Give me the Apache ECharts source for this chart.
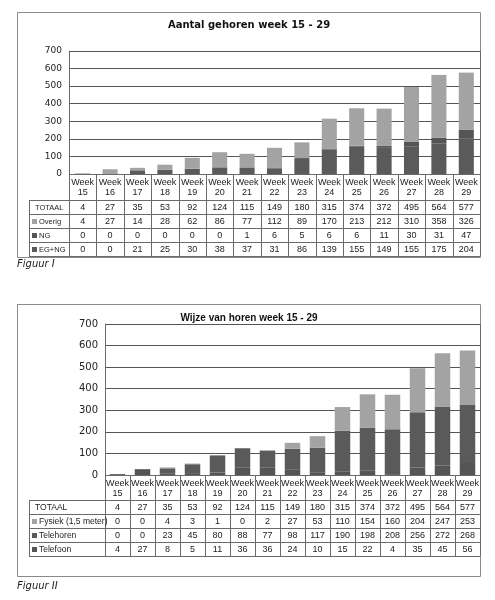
<!DOCTYPE html>
<html><head><meta charset="utf-8">
<script src="https://cdn.jsdelivr.net/npm/echarts@6/dist/echarts.min.js"></script>
<style>html,body{margin:0;padding:0;background:#fff}#c{width:495px;height:600px}</style>
</head><body><div id="c"></div>
<script>
const weeks = ['15','16','17','18','19','20','21','22','23','24','25','26','27','28','29'];
const totaal = [4,27,35,53,92,124,115,149,180,315,374,372,495,564,577];
// Figuur I
const overig = [4,27,14,28,62,86,77,112,89,170,213,212,310,358,326];
const ng     = [0,0,0,0,0,0,1,6,5,6,6,11,30,31,47];
const egng   = [0,0,21,25,30,38,37,31,86,139,155,149,155,175,204];
// Figuur II
const fysiek    = [0,0,4,3,1,0,2,27,53,110,154,160,204,247,253];
const telehoren = [0,0,23,45,80,88,77,98,117,190,198,208,256,272,268];
const telefoon  = [4,27,8,5,11,36,36,24,10,15,22,4,35,45,56];

const title1 = 'Aantal gehoren week 15 - 29';
const title2 = 'Wijze van horen week 15 - 29';

const LIGHT = '#a3a3a3', DARK = '#5a5a5a', DARK2 = '#555555';
const LINE = '#6a6a6a';
const cats = weeks.map(w => 'Week ' + w);

const G1 = {left:69, right:480, top:51, bottom:174, catBottom:200, rowH:14, tableLeft:29};
const G2 = {left:105, right:480, top:324, bottom:475, catBottom:500, rowH:14, tableLeft:29};

const chart = echarts.init(document.getElementById('c'), null, {renderer:'canvas'});

function yAxisCfg(grid, fs){
  return {type:'value', gridIndex:grid, min:0, max:700, interval:100,
    axisLine:{show:true, lineStyle:{color:LINE}}, axisTick:{show:false},
    axisLabel:{color:'#222', fontSize:fs, fontFamily:'DejaVu Sans', margin:7},
    splitLine:{lineStyle:{color:'#555', width:1}}};
}
function xAxisCfg(grid){
  return {type:'category', gridIndex:grid, data:cats, axisLine:{show:false},
    axisTick:{show:false}, axisLabel:{show:false}, splitLine:{show:false}};
}
function bar(name, data, color, xi, bw){
  return {type:'bar', name, data, stack:'s'+xi, xAxisIndex:xi, yAxisIndex:xi,
    barWidth:bw, itemStyle:{color}, silent:true, animation:false};
}

chart.setOption({
  animation:false,
  grid:[
    {left:G1.left, width:G1.right-G1.left, top:G1.top, height:G1.bottom-G1.top},
    {left:G2.left, width:G2.right-G2.left, top:G2.top, height:G2.bottom-G2.top}
  ],
  xAxis:[xAxisCfg(0), xAxisCfg(1)],
  yAxis:[yAxisCfg(0,9), yAxisCfg(1,10)],
  series:[
    bar('EG+NG', egng, DARK, 0, '55%'),
    bar('NG', ng, DARK2, 0, '55%'),
    bar('Overig', overig, LIGHT, 0, '55%'),
    bar('Telefoon', telefoon, DARK2, 1, '62%'),
    bar('Telehoren', telehoren, DARK, 1, '62%'),
    bar('Fysiek (1,5 meter)', fysiek, LIGHT, 1, '62%')
  ]
});

const gfx = [];
function hline(x1,x2,y,c){ gfx.push({type:'line', silent:true, shape:{x1,y1:y+0.5,x2,y2:y+0.5}, style:{stroke:c||LINE, lineWidth:1}}); }
function vline(x,y1,y2,c){ gfx.push({type:'line', silent:true, shape:{x1:x+0.5,y1,x2:x+0.5,y2}, style:{stroke:c||LINE, lineWidth:1}}); }
function txt(x,y,s,opt){ gfx.push({type:'text', silent:true, x, y, style:Object.assign({text:s, fill:'#222', font:'9px "Liberation Sans"', textAlign:'center', textVerticalAlign:'middle'}, opt||{})}); }
function key(x,y,c){ gfx.push({type:'rect', silent:true, shape:{x, y:y-2.5, width:5, height:5}, style:{fill:c}}); }

function table(xi, G, rows, hfont){
  const centers = weeks.map((w,i)=>chart.convertToPixel({xAxisIndex:xi}, cats[i]));
  const colW = (G.right-G.left)/weeks.length;
  for(let k=0;k<=weeks.length;k++){
    const x = Math.round(G.left + k*colW);
    vline(Math.min(x,G.right), G.bottom, G.catBottom + rows.length*G.rowH);
  }
  vline(G.tableLeft, G.catBottom, G.catBottom + rows.length*G.rowH);
  hline(G.left, G.right, G.bottom);
  for(let r=0;r<=rows.length;r++) hline(G.tableLeft, G.right, G.catBottom + r*G.rowH);
  centers.forEach((cx,i)=>{
    txt(cx, G.bottom+8.5, 'Week');
    txt(cx, G.bottom+18.5, weeks[i]);
  });
  rows.forEach((row,r)=>{
    const cy = G.catBottom + r*G.rowH + G.rowH/2 + 0.5;
    if(row.color){ key(G.tableLeft+3, cy, row.color); txt(G.tableLeft+10, cy, row.label, {textAlign:'left', font:hfont}); }
    else txt(G.tableLeft+6, cy, row.label, {textAlign:'left', font:hfont});
    row.data.forEach((v,i)=>txt(centers[i], cy, String(v)));
  });
}

gfx.push({type:'rect', silent:true, z:-1, shape:{x:17.5,y:12.5,width:463,height:245}, style:{fill:'none', stroke:'#8a8a8a', lineWidth:1}});
gfx.push({type:'rect', silent:true, z:-1, shape:{x:17.5,y:304.5,width:463,height:272}, style:{fill:'none', stroke:'#8a8a8a', lineWidth:1}});
vline(G1.right, G1.top, G1.bottom);
vline(G2.right, G2.top, G2.bottom);

txt(249, 25, title1, {font:'bold 10px "DejaVu Sans"', fill:'#111'});
txt(249, 318, title2, {font:'bold 10px "Liberation Sans"', fill:'#111'});

table(0, G1, [
  {label:'TOTAAL', data:totaal},
  {label:'Overig', data:overig, color:LIGHT},
  {label:'NG', data:ng, color:DARK2},
  {label:'EG+NG', data:egng, color:DARK}
], '7.5px "Liberation Sans"');
table(1, G2, [
  {label:'TOTAAL', data:totaal},
  {label:'Fysiek (1,5 meter)', data:fysiek, color:LIGHT},
  {label:'Telehoren', data:telehoren, color:DARK},
  {label:'Telefoon', data:telefoon, color:DARK2}
], '8.5px "Liberation Sans"');

txt(17, 264, 'Figuur I', {textAlign:'left', font:'italic 10px "DejaVu Sans"', fill:'#222'});
txt(17, 586, 'Figuur II', {textAlign:'left', font:'italic 10px "DejaVu Sans"', fill:'#222'});

chart.setOption({graphic:gfx});
</script></body></html>
